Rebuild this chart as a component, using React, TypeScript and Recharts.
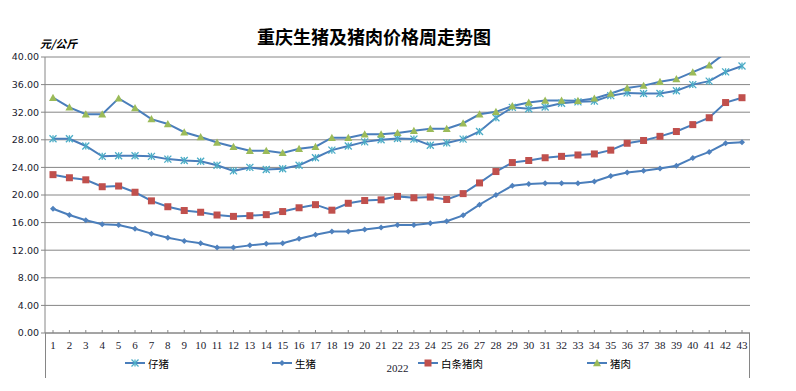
// 重庆生猪及猪肉价格周走势图 — 2022 年 1-43 周
import { LineChart, Line, XAxis, YAxis, CartesianGrid } from "recharts";

const weeks = [
  "1", "2", "3", "4", "5", "6", "7", "8", "9", "10",
  "11", "12", "13", "14", "15", "16", "17", "18", "19", "20",
  "21", "22", "23", "24", "25", "26", "27", "28", "29", "30",
  "31", "32", "33", "34", "35", "36", "37", "38", "39", "40",
  "41", "42", "43",
];

// 仔猪
const piglet = [
  28.15, 28.15, 27.1, 25.6, 25.7, 25.7, 25.6, 25.2, 25.0, 24.9,
  24.3, 23.5, 24.0, 23.7, 23.8, 24.3, 25.4, 26.5, 27.1, 27.7,
  28.0, 28.2, 28.1, 27.2, 27.55, 28.1, 29.2, 31.2, 32.7, 32.5,
  32.75, 33.3, 33.5, 33.6, 34.4, 34.8, 34.7, 34.7, 35.1, 36.0,
  36.5, 37.85, 38.7,
];

// 生猪
const hog = [
  18.0, 17.1, 16.35, 15.75, 15.65, 15.1, 14.4, 13.8, 13.35, 13.0,
  12.4, 12.4, 12.7, 12.95, 13.0, 13.65, 14.25, 14.7, 14.7, 15.0,
  15.3, 15.65, 15.65, 15.9, 16.2, 17.05, 18.6, 20.0, 21.35, 21.6,
  21.7, 21.7, 21.7, 21.95, 22.75, 23.25, 23.5, 23.85, 24.25, 25.35,
  26.25, 27.5, 27.65,
];

// 白条猪肉
const carcass = [
  22.95, 22.5, 22.2, 21.2, 21.3, 20.4, 19.15, 18.3, 17.75, 17.5,
  17.1, 16.9, 17.0, 17.15, 17.6, 18.15, 18.6, 17.8, 18.8, 19.2,
  19.3, 19.8, 19.6, 19.7, 19.35, 20.2, 21.75, 23.4, 24.7, 25.0,
  25.4, 25.6, 25.8, 25.95, 26.5, 27.5, 27.9, 28.5, 29.2, 30.2,
  31.2, 33.4, 34.1,
];

// 猪肉 (последние точки выходят за 40 и обрезаются)
const pork = [
  34.1, 32.7, 31.7, 31.7, 34.0, 32.6, 31.0, 30.3, 29.1, 28.4,
  27.6, 27.0, 26.4, 26.4, 26.1, 26.7, 27.0, 28.3, 28.3, 28.8,
  28.8, 29.0, 29.3, 29.6, 29.6, 30.4, 31.7, 32.05, 32.9, 33.4,
  33.7, 33.7, 33.65, 34.0, 34.7, 35.5, 35.85, 36.4, 36.8, 37.8,
  38.8, 40.6, 41.6,
];

const yTicks = [0, 4, 8, 12, 16, 20, 24, 28, 32, 36, 40];

const data = weeks.map((w, i) => ({
  week: w,
  piglet: piglet[i],
  hog: hog[i],
  carcass: carcass[i],
  pork: pork[i],
}));

const LINE = "#4A7EBB";
const GRID = "#868686";
const TXT = "#1a1a2e";
const CJK = '"Noto Sans CJK SC", sans-serif';

type DotProps = { cx?: number; cy?: number; index?: number };

const StarDot = ({ cx = 0, cy = 0 }: DotProps, size = 3.5) => (
  <g stroke="#4BACC6" strokeWidth={1.3}>
    <line x1={cx - size} y1={cy - size} x2={cx + size} y2={cy + size} />
    <line x1={cx - size} y1={cy + size} x2={cx + size} y2={cy - size} />
    <line x1={cx} y1={cy - size} x2={cx} y2={cy + size} />
  </g>
);

const DiamondDot = ({ cx = 0, cy = 0 }: DotProps, s = 3) => (
  <path d={`M${cx},${cy - s} L${cx + s},${cy} L${cx},${cy + s} L${cx - s},${cy} Z`} fill="#4F81BD" />
);

const SquareDot = ({ cx = 0, cy = 0 }: DotProps, s = 3.5) => (
  <rect x={cx - s} y={cy - s} width={s * 2} height={s * 2} fill="#C0504D" />
);

const TriDot = ({ cx = 0, cy = 0 }: DotProps, s = 4) => (
  <path d={`M${cx},${cy - s} L${cx + s},${cy + s * 0.8} L${cx - s},${cy + s * 0.8} Z`} fill="#9BBB59" />
);

const series = [
  { key: "piglet", name: "仔猪", dot: StarDot, left: 125 },
  { key: "hog", name: "生猪", dot: DiamondDot, left: 272 },
  { key: "carcass", name: "白条猪肉", dot: SquareDot, left: 418 },
  { key: "pork", name: "猪肉", dot: TriDot, left: 587 },
];

const XTick = (props: { x?: number; y?: number; payload?: { value: string } }) => {
  const { x = 0, y = 0, payload } = props;
  return (
    <g>
      <line x1={x} x2={x} y1={y - 3} y2={y} stroke={GRID} />
      <text x={x} y={y + 16} textAnchor="middle" fontSize={11} fontFamily='"Liberation Serif", serif' fill={TXT}>
        {payload?.value}
      </text>
    </g>
  );
};

export default function App() {
  return (
    <div style={{ position: "absolute", left: 0, top: 0, width: 796, height: 391, background: "#fff" }}>
      <div
        style={{
          position: "absolute", left: 0, width: 748, top: 25, textAlign: "center",
          fontFamily: CJK, fontWeight: 700, fontSize: 18, lineHeight: "22px", color: "#000",
        }}
      >
        重庆生猪及猪肉价格周走势图
      </div>
      <div
        style={{
          position: "absolute", left: 40, top: 36, fontFamily: CJK, fontWeight: 700,
          fontStyle: "italic", fontSize: 11, lineHeight: "14px", color: "#000",
        }}
      >
        元/公斤
      </div>
      <LineChart width={796} height={391} data={data} margin={{ top: 57, right: 46, left: 0, bottom: 28 }}>
        <CartesianGrid vertical={false} stroke={GRID} strokeWidth={1} />
        <XAxis
          dataKey="week"
          interval={0}
          height={30}
          padding={{ left: 8, right: 8 }}
          tickSize={0}
          tickMargin={0}
          tickLine={false}
          axisLine={{ stroke: GRID }}
          tick={<XTick />}
          label={{ value: "2022", position: "bottom", offset: 1, fontSize: 11, fill: TXT, fontFamily: '"Liberation Serif", serif' }}
        />
        <YAxis
          domain={[0, 40]}
          ticks={yTicks}
          allowDataOverflow
          width={45}
          tickSize={4}
          tickMargin={2}
          axisLine={{ stroke: GRID }}
          tickLine={{ stroke: GRID }}
          tickFormatter={(v: number) => v.toFixed(2)}
          tick={{ fontSize: 9.5, fill: TXT, fontFamily: '"DejaVu Sans", sans-serif' }}
        />
        {series.map((s) => (
          <Line
            key={s.key}
            dataKey={s.key}
            name={s.name}
            type="linear"
            stroke={LINE}
            strokeWidth={2}
            isAnimationActive={false}
            dot={(p: DotProps) => <g key={`${s.key}-${p.index}`}>{s.dot(p)}</g>}
            activeDot={false}
          />
        ))}
      </LineChart>
      {/* вертикальные рамки под осью, как в Excel */}
      <div style={{ position: "absolute", left: 45, top: 333, width: 1, height: 45, background: GRID }} />
      <div style={{ position: "absolute", left: 749, top: 333, width: 1, height: 45, background: GRID }} />
      {series.map((s) => (
        <div
          key={s.key}
          style={{ position: "absolute", left: s.left, top: 355, height: 16, display: "flex", alignItems: "center" }}
        >
          <svg width={20} height={12}>
            <line x1={0} x2={20} y1={6} y2={6} stroke={LINE} strokeWidth={2} />
            {s.dot({ cx: 10, cy: 6 })}
          </svg>
          <span style={{ marginLeft: 3, fontFamily: CJK, fontSize: 10.5, color: "#000" }}>{s.name}</span>
        </div>
      ))}
    </div>
  );
}
